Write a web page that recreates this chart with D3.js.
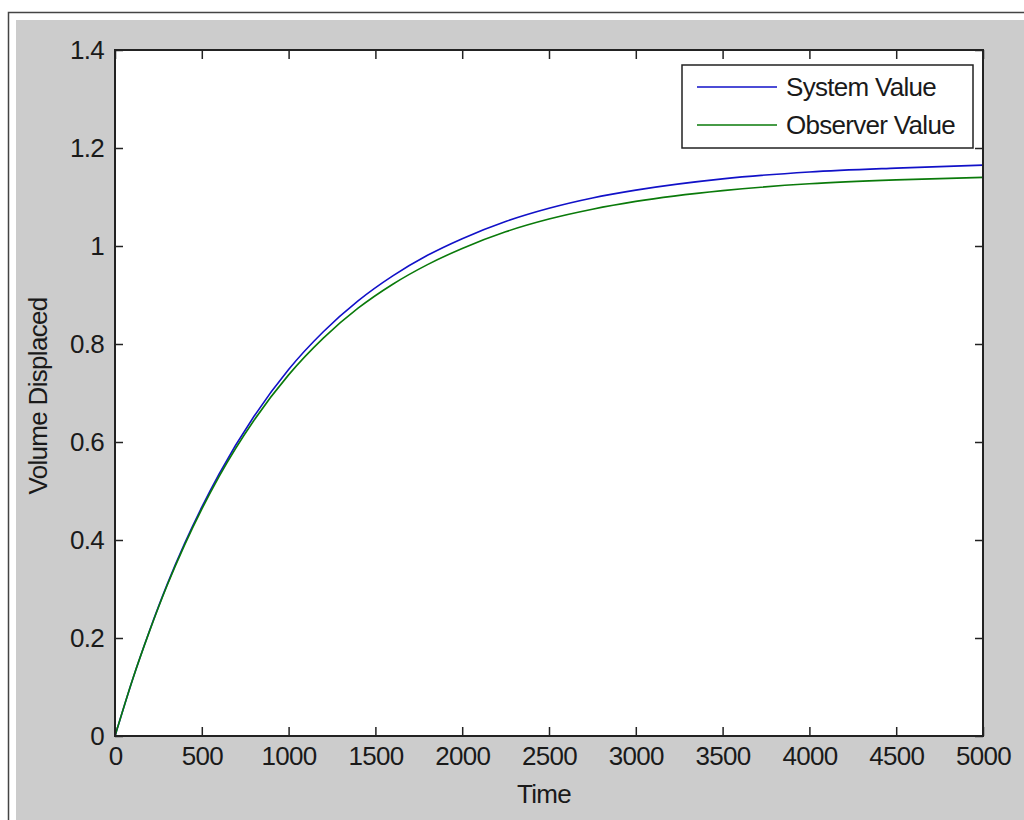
<!DOCTYPE html>
<html>
<head>
<meta charset="utf-8">
<script src="https://cdn.jsdelivr.net/npm/d3@7"></script>
<style>
  body { margin: 0; background: #fff; }
  svg { display: block; }
  text { letter-spacing: -0.7px; }
  .tick text { font-family: "Liberation Sans", Arial, sans-serif; font-size: 26px; fill: #1a1a1a; }
</style>
</head>
<body>
<svg width="1024" height="820"></svg>
<script>
// time samples
const times = [0, 100, 200, 300, 400, 500, 600, 800, 1000, 1200, 1400, 1600, 1800,
               2000, 2250, 2500, 2750, 3000, 3500, 4000, 4500, 5000];
const systemValue = [0, 0.114, 0.216, 0.309, 0.392, 0.467, 0.535, 0.652, 0.748, 0.825, 0.888,
                     0.939, 0.981, 1.015, 1.050, 1.077, 1.098, 1.114, 1.137, 1.151, 1.159, 1.165];
const observerValue = [0, 0.114, 0.215, 0.307, 0.389, 0.463, 0.530, 0.644, 0.737, 0.812, 0.873,
                       0.922, 0.962, 0.995, 1.029, 1.055, 1.075, 1.091, 1.113, 1.127, 1.135, 1.140];
const xTicks = [0, 500, 1000, 1500, 2000, 2500, 3000, 3500, 4000, 4500, 5000];
const yTicks = [0, 0.2, 0.4, 0.6, 0.8, 1, 1.2, 1.4];
const seriesNames = ["System Value", "Observer Value"];
const seriesColors = ["#1111c8", "#0a7a0a"];

const plotLeft = 115, plotRight = 983, plotTop = 50, plotBottom = 736;
const svg = d3.select("svg");

// figure frame
svg.append("rect")
  .attr("x", 8.5).attr("y", 12.5)
  .attr("width", 1030).attr("height", 830)
  .attr("fill", "#fff")
  .attr("stroke", "#444").attr("stroke-width", 1.5);
svg.append("rect")
  .attr("x", 16).attr("y", 20)
  .attr("width", 1010).attr("height", 802)
  .attr("fill", "#cccccc");

// plot area
svg.append("rect")
  .attr("x", plotLeft).attr("y", plotTop)
  .attr("width", plotRight - plotLeft).attr("height", plotBottom - plotTop)
  .attr("fill", "#fff");

const x = d3.scaleLinear().domain([0, 5000]).range([plotLeft, plotRight]);
const y = d3.scaleLinear().domain([0, 1.4]).range([plotBottom, plotTop]);

const series = [systemValue, observerValue];
const line = d3.line()
  .x((d, i) => x(times[i]))
  .y(d => y(d))
  .curve(d3.curveMonotoneX);

svg.selectAll(".curve")
  .data(series)
  .enter().append("path")
  .attr("class", "curve")
  .attr("d", d => line(d))
  .attr("fill", "none")
  .attr("stroke", (d, i) => seriesColors[i])
  .attr("stroke-width", 1.6);

// axes, ticks pointing inward like matlab
const fmt = d => String(d);
const bottomAxis = svg.append("g")
  .attr("transform", `translate(0,${plotBottom})`)
  .call(d3.axisBottom(x).tickValues(xTicks).tickFormat(fmt).tickSizeInner(-9).tickSizeOuter(0).tickPadding(11));
const leftAxis = svg.append("g")
  .attr("transform", `translate(${plotLeft},0)`)
  .call(d3.axisLeft(y).tickValues(yTicks).tickFormat(fmt).tickSizeInner(-8).tickSizeOuter(0).tickPadding(11));
const topAxis = svg.append("g")
  .attr("transform", `translate(0,${plotTop})`)
  .call(d3.axisTop(x).tickValues(xTicks).tickFormat("").tickSizeInner(-9).tickSizeOuter(0));
const rightAxis = svg.append("g")
  .attr("transform", `translate(${plotRight},0)`)
  .call(d3.axisRight(y).tickValues(yTicks).tickFormat("").tickSizeInner(-8).tickSizeOuter(0));

[bottomAxis, leftAxis, topAxis, rightAxis].forEach(a => {
  a.select(".domain").remove();
  a.selectAll(".tick line").attr("stroke", "#222").attr("stroke-width", 1.5);
});

// axes box
svg.append("rect")
  .attr("x", plotLeft).attr("y", plotTop)
  .attr("width", plotRight - plotLeft).attr("height", plotBottom - plotTop)
  .attr("fill", "none")
  .attr("stroke", "#222").attr("stroke-width", 2);

// axis labels
svg.append("text")
  .attr("x", 544).attr("y", 803)
  .attr("text-anchor", "middle")
  .attr("font-family", "Liberation Sans, Arial, sans-serif")
  .attr("font-size", 26)
  .attr("fill", "#1a1a1a")
  .text("Time");

svg.append("text")
  .attr("transform", "translate(47,396) rotate(-90)")
  .attr("text-anchor", "middle")
  .attr("font-family", "Liberation Sans, Arial, sans-serif")
  .attr("font-size", 26)
  .attr("fill", "#1a1a1a")
  .text("Volume Displaced");

// legend
const legend = svg.append("g");
legend.append("rect")
  .attr("x", 682).attr("y", 65)
  .attr("width", 291).attr("height", 83)
  .attr("fill", "#fff")
  .attr("stroke", "#222").attr("stroke-width", 1.5);

const item = legend.selectAll(".item")
  .data(seriesNames)
  .enter().append("g")
  .attr("class", "item")
  .attr("transform", (d, i) => `translate(0,${87 + i * 38})`);

item.append("line")
  .attr("x1", 697).attr("x2", 777)
  .attr("stroke", (d, i) => seriesColors[i])
  .attr("stroke-width", 1.6);

item.append("text")
  .attr("x", 786)
  .attr("dy", "0.35em")
  .attr("font-family", "Liberation Sans, Arial, sans-serif")
  .attr("font-size", 26)
  .attr("fill", "#1a1a1a")
  .text(d => d);
</script>
</body>
</html>
